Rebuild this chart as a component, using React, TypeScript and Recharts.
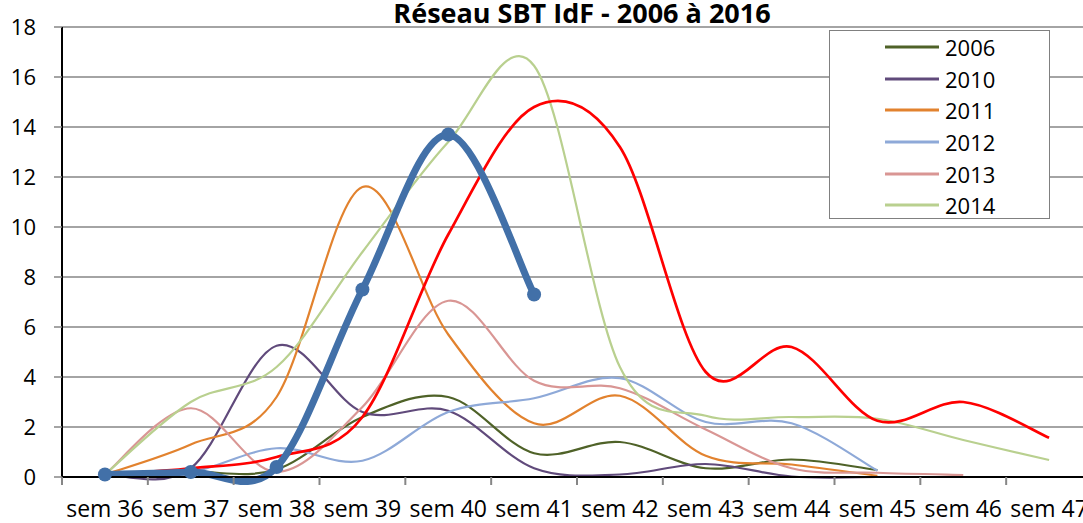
import React from 'react';
import { CartesianGrid, Legend, Line, LineChart, XAxis, YAxis } from 'recharts';

const weeks = ['sem 36', 'sem 37', 'sem 38', 'sem 39', 'sem 40', 'sem 41', 'sem 42', 'sem 43', 'sem 44', 'sem 45', 'sem 46', 'sem 47'];

const y2006 = [0.1, 0.2, 0.3, 2.4, 3.2, 0.95, 1.4, 0.35, 0.7, 0.28, null, null];
const y2010 = [0.1, 0.35, 5.25, 2.6, 2.65, 0.35, 0.1, 0.52, 0.02, 0, null, null];
const y2011 = [0.1, 1.3, 3.2, 11.6, 5.7, 2.15, 3.25, 0.85, 0.5, 0.05, null, null];
const y2012 = [0, 0.2, 1.15, 0.65, 2.6, 3.15, 3.95, 2.2, 2.15, 0.25, null, null];
const y2013 = [0.1, 2.75, 0.2, 2.8, 7.05, 3.85, 3.55, 1.9, 0.35, 0.17, 0.08, null];
const y2014 = [0.1, 3.0, 4.4, 9.0, 13.4, 16.45, 4.4, 2.45, 2.4, 2.33, 1.48, 0.68];
const y2015 = [0.1, 0.35, 0.8, 2.4, 9.7, 14.8, 13.2, 4.2, 5.2, 2.25, 3.0, 1.57];
const y2016 = [0.1, 0.2, 0.4, 7.5, 13.7, 7.3, null, null, null, null, null, null];

const yTicks = [0, 2, 4, 6, 8, 10, 12, 14, 16, 18];

const data = weeks.map((week, i) => ({
  week,
  '2006': y2006[i],
  '2010': y2010[i],
  '2011': y2011[i],
  '2012': y2012[i],
  '2013': y2013[i],
  '2014': y2014[i],
  '2015': y2015[i],
  '2016': y2016[i],
}));

const FONT = '"Open Sans", sans-serif';
const PLOT_BOTTOM = 477;
const BAND = 85.83;

// Excel-like smoothing (Catmull-Rom through the points)
function excelCurve(context: any) {
  let pts: number[][] = [];
  return {
    areaStart() {},
    areaEnd() {},
    lineStart() {
      pts = [];
    },
    point(x: number, y: number) {
      pts.push([+x, +y]);
    },
    lineEnd() {
      const n = pts.length;
      if (!n) return;
      context.moveTo(pts[0][0], pts[0][1]);
      for (let i = 0; i < n - 1; i++) {
        const p0 = pts[i - 1] || pts[i];
        const p1 = pts[i];
        const p2 = pts[i + 1];
        const p3 = pts[i + 2] || p2;
        context.bezierCurveTo(
          p1[0] + (p2[0] - p0[0]) / 6,
          p1[1] + (p2[1] - p0[1]) / 6,
          p2[0] - (p3[0] - p1[0]) / 6,
          p2[1] - (p3[1] - p1[1]) / 6,
          p2[0],
          p2[1]
        );
      }
    },
  };
}

const WeekTick = (props: any) => {
  const { x, payload } = props;
  const b = x - BAND / 2;
  return (
    <g>
      <line x1={b} x2={b} y1={PLOT_BOTTOM} y2={PLOT_BOTTOM + 8} stroke="#868686" strokeWidth={2} />
      <text x={x} y={517} textAnchor="middle" fontSize={23} fontFamily={FONT} fill="#000">
        {payload.value}
      </text>
    </g>
  );
};

const LegendBox = (props: any) => {
  const items = (props.payload || []).filter((p: any) => p.type !== 'none');
  return (
    <div
      style={{
        width: 221,
        height: 189,
        border: '1px solid #808080',
        background: '#fff',
        boxSizing: 'border-box',
      }}
    >
      {items.map((p: any) => (
        <div key={p.value} style={{ display: 'flex', alignItems: 'center', height: 31.7 }}>
          <svg width={56} height={10} style={{ marginLeft: 55 }}>
            <line x1={0} x2={54} y1={5} y2={5} stroke={p.color} strokeWidth={3} />
          </svg>
          <span style={{ fontFamily: FONT, fontSize: 22, marginLeft: 4, color: '#000', lineHeight: '24px' }}>{p.value}</span>
        </div>
      ))}
    </div>
  );
};

export default function App() {
  return (
    <div style={{ position: 'absolute', left: 0, top: 0, width: 1083, height: 523, overflow: 'hidden', background: '#fff' }}>
      <div
        style={{
          position: 'absolute',
          left: 0,
          width: 1164,
          top: -1,
          textAlign: 'center',
          fontFamily: FONT,
          fontWeight: 700,
          fontSize: 27,
          lineHeight: '27px',
          zIndex: 2,
        }}
      >
        Réseau SBT IdF - 2006 à 2016
      </div>
      <LineChart width={1092} height={523} data={data} margin={{ top: 27, right: 0, bottom: 0, left: 0 }}>
        <CartesianGrid vertical={false} stroke="#868686" strokeWidth={1.3} />
        <XAxis
          dataKey="week"
          padding={{ left: BAND / 2, right: BAND / 2 }}
          interval={0}
          height={46}
          tickLine={false}
          axisLine={{ stroke: '#000', strokeWidth: 2 }}
          tick={<WeekTick />}
        />
        <YAxis
          domain={[0, 18]}
          ticks={yTicks}
          width={62}
          tickSize={8}
          tickMargin={18}
          axisLine={{ stroke: '#000', strokeWidth: 2 }}
          tickLine={{ stroke: '#868686', strokeWidth: 1.5 }}
          tick={{ fontSize: 22, fontFamily: FONT, fill: '#000' }}
        />
        <Legend
          layout="vertical"
          align="center"
          verticalAlign="middle"
          wrapperStyle={{ left: 829, top: 30, width: 221, height: 189 }}
          content={<LegendBox />}
        />
        <Line dataKey="2006" type={excelCurve as any} stroke="#4F6228" strokeWidth={2.2} dot={false} activeDot={false} isAnimationActive={false} />
        <Line dataKey="2010" type={excelCurve as any} stroke="#604A7B" strokeWidth={2.2} dot={false} activeDot={false} isAnimationActive={false} />
        <Line dataKey="2011" type={excelCurve as any} stroke="#E2822E" strokeWidth={2.2} dot={false} activeDot={false} isAnimationActive={false} />
        <Line dataKey="2012" type={excelCurve as any} stroke="#8EA9D8" strokeWidth={2.2} dot={false} activeDot={false} isAnimationActive={false} />
        <Line dataKey="2013" type={excelCurve as any} stroke="#D99694" strokeWidth={2.2} dot={false} activeDot={false} isAnimationActive={false} />
        <Line dataKey="2014" type={excelCurve as any} stroke="#B9D08F" strokeWidth={2.2} dot={false} activeDot={false} isAnimationActive={false} />
        <Line dataKey="2015" type={excelCurve as any} stroke="#FF0000" strokeWidth={2.7} dot={false} activeDot={false} legendType="none" isAnimationActive={false} />
        <Line
          dataKey="2016"
          type={excelCurve as any}
          stroke="#4270A8"
          strokeWidth={7}
          dot={{ r: 7, fill: '#4270A8', stroke: '#4270A8', strokeWidth: 0 }}
          activeDot={false}
          legendType="none"
          isAnimationActive={false}
        />
      </LineChart>
    </div>
  );
}
